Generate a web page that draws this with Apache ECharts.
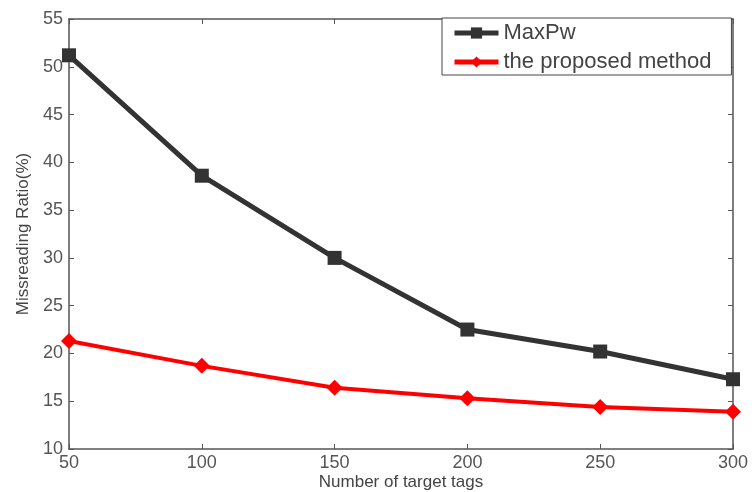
<!DOCTYPE html>
<html>
<head>
<meta charset="utf-8">
<script src="https://cdn.jsdelivr.net/npm/echarts@6/dist/echarts.min.js"></script>
<style>
  html, body { margin: 0; padding: 0; background: #fff; }
  #main { width: 752px; height: 492px; }
</style>
</head>
<body>
<div id="main"></div>
<script>
// 数据
var tags = [50, 100, 150, 200, 250, 300];
var maxPw = [51.2, 38.6, 30.0, 22.5, 20.2, 17.3];
var proposed = [21.3, 18.7, 16.4, 15.3, 14.4, 13.9];
var yTicks = [10, 55, 5]; // min, max, interval

var axisColor = '#555';
var txtFont = 'Liberation Sans, Arial, sans-serif';

function pairs(xs, ys) {
  return xs.map(function (x, i) { return [x, ys[i]]; });
}

var chart = echarts.init(document.getElementById('main'));
var option = {
  backgroundColor: '#fff',
  animation: false,
  grid: { left: 69, right: 19, top: 19, bottom: 43, outerBoundsMode: 'none' },
  legend: {
    orient: 'vertical',
    left: 442,
    top: 18,
    backgroundColor: '#fff',
    borderColor: '#444',
    borderWidth: 1,
    borderRadius: 0,
    padding: [4, 20, 2, 10],
    itemGap: 7,
    itemWidth: 44,
    itemHeight: 14,
    textStyle: { fontFamily: txtFont, fontSize: 22, color: '#444' },
    data: [
      { name: 'MaxPw', lineStyle: { width: 5 } },
      { name: 'the proposed method', lineStyle: { width: 5 } }
    ]
  },
  xAxis: [{
    type: 'value',
    min: 50, max: 300, interval: 50,
    name: 'Number of target tags',
    nameLocation: 'middle',
    nameGap: 25,
    nameMoveOverlap: false,
    nameTextStyle: { fontFamily: txtFont, fontSize: 17, color: '#444' },
    axisLine: { lineStyle: { color: axisColor, width: 1.5 } },
    axisTick: { inside: true, length: 5, lineStyle: { color: axisColor } },
    axisLabel: { fontFamily: txtFont, fontSize: 18, color: '#555', margin: 5 },
    splitLine: { show: false }
  }, {
    type: 'value', position: 'top',
    min: 50, max: 300, interval: 50,
    axisLine: { show: true, onZero: false, lineStyle: { color: axisColor, width: 1.5 } },
    axisTick: { inside: true, length: 5, lineStyle: { color: axisColor } },
    axisLabel: { show: false },
    splitLine: { show: false }
  }],
  yAxis: [{
    type: 'value',
    min: yTicks[0], max: yTicks[1], interval: yTicks[2],
    name: 'Missreading Ratio(%)',
    nameLocation: 'middle',
    nameGap: 37,
    nameMoveOverlap: false,
    nameTextStyle: { fontFamily: txtFont, fontSize: 17, color: '#444' },
    axisLine: { show: true, lineStyle: { color: axisColor, width: 1.5 } },
    axisTick: { show: true, inside: true, length: 5, lineStyle: { color: axisColor } },
    axisLabel: { fontFamily: txtFont, fontSize: 18, color: '#555', margin: 6 },
    splitLine: { show: false }
  }, {
    type: 'value', position: 'right',
    min: yTicks[0], max: yTicks[1], interval: yTicks[2],
    axisLine: { show: true, onZero: false, lineStyle: { color: axisColor, width: 1.5 } },
    axisTick: { show: true, inside: true, length: 5, lineStyle: { color: axisColor } },
    axisLabel: { show: false },
    splitLine: { show: false }
  }],
  series: [{
    name: 'MaxPw',
    type: 'line',
    data: pairs(tags, maxPw),
    symbol: 'rect',
    symbolSize: 14,
    lineStyle: { color: '#333', width: 5 },
    itemStyle: { color: '#333' }
  }, {
    name: 'the proposed method',
    type: 'line',
    data: pairs(tags, proposed),
    symbol: 'diamond',
    symbolSize: 16,
    lineStyle: { color: '#f00', width: 4 },
    itemStyle: { color: '#f00' }
  }]
};
chart.setOption(option);
</script>
</body>
</html>
